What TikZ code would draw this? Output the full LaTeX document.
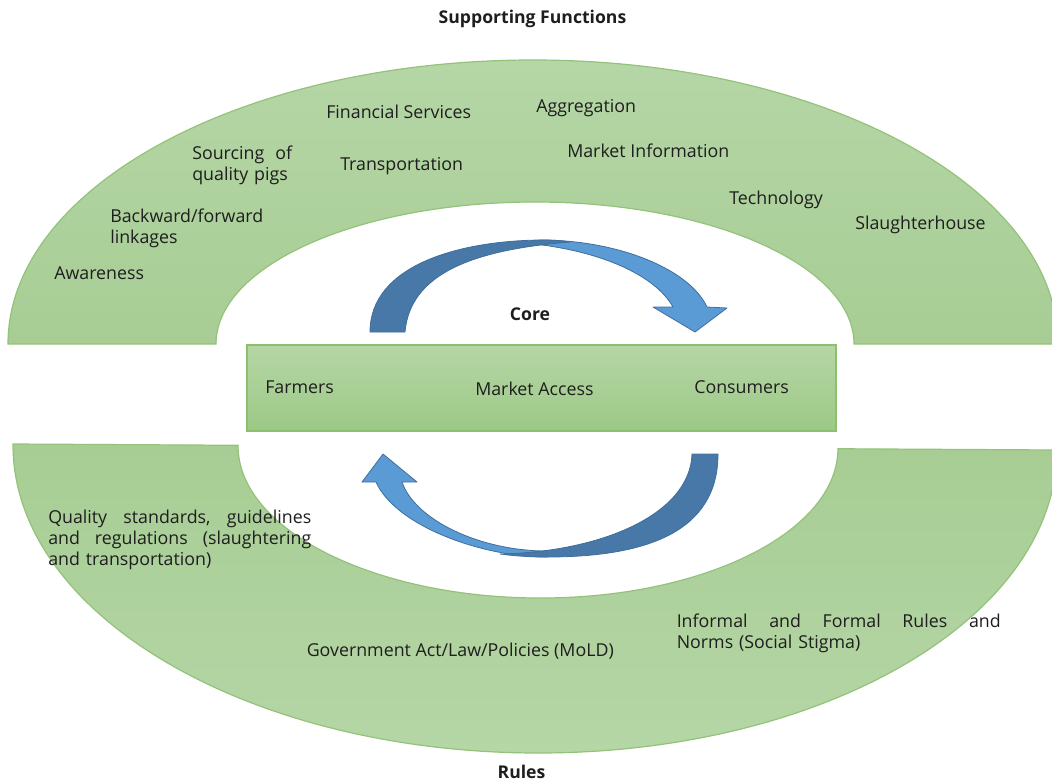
\documentclass[tikz,border=0pt]{standalone}
\usepackage{fontspec}
\setmainfont{Open Sans}
% a line set to a given width, its words pushed apart
\newcommand\spreadto[2]{\leavevmode\hbox to #1{#2}}
\definecolor{bandTop}{HTML}{B5D6A6}
\definecolor{bandBot}{HTML}{A7CD94}
\definecolor{bandEdge}{HTML}{95C27A}
\definecolor{boxTop}{HTML}{B6D6A5}
\definecolor{boxBot}{HTML}{9CC986}
\definecolor{boxEdge}{HTML}{8CBF6E}
\definecolor{arrowDark}{HTML}{4878A8}
\definecolor{arrowLight}{HTML}{5B9BD5}
\definecolor{arrowEdge}{HTML}{3F6E9C}
\definecolor{txt}{HTML}{1E1E1E}
\begin{document}
\begin{tikzpicture}[x=0.75pt,y=-0.75pt,
  lbl/.style={inner sep=0pt, anchor=base west, text=txt,
    font=\fontsize{13.35}{16}\selectfont},
  para/.style={lbl, align=left},
  ttl/.style={inner sep=0pt, anchor=base, text=txt,
    font=\bfseries\fontsize{13.2}{16}\selectfont},
  band/.style={draw=bandEdge, line width=0.9pt},
  arrowband/.style={draw=arrowEdge, line width=0.6pt, line join=round}]
\useasboundingbox (0,0) rectangle (1052,782);

% upper band: supporting functions
\path[band, top color=bandTop, bottom color=bandBot]
  (8,344) arc[start angle=180, end angle=360, x radius=525, y radius=284]
  -- (854,344) arc[start angle=0, end angle=-180, x radius=319, y radius=142]
  -- cycle;

% lower band: rules (very slightly tilted, right end lower)
\path[band, top color=bandBot, bottom color=bandTop,
      rotate around={-0.33:(535,447)}]
  (13,447) arc[start angle=180, end angle=0, x radius=522, y radius=306]
  -- (838,447) arc[start angle=0, end angle=180, x radius=300, y radius=151]
  -- cycle;

% core box
\node[draw=boxEdge, line width=0.9pt, top color=boxTop, bottom color=boxBot,
      minimum width=441.75pt, minimum height=64.5pt, inner sep=0pt]
  (corebox) at (541.5,388) {};

% upper circular arrow: head part, then tail part
\path[arrowband, fill=arrowLight]
  (540,240) .. controls (620,240) and (690,270) .. (707,307)
  -- (727,308) -- (695,332) -- (653,307) -- (673,307)
  .. controls (655,275) and (600,250) .. (525,243) -- cycle;
\path[arrowband, fill=arrowDark]
  (370,332) .. controls (370,265) and (460,240) .. (545,240)
  .. controls (555,240) and (563,241) .. (570,242)
  .. controls (470,250) and (410,275) .. (405,332) -- cycle;

% lower circular arrow: head part, then tail part
\path[arrowband, fill=arrowLight]
  (547,557) .. controls (480,557) and (395,525) .. (376,482)
  -- (362,482) -- (383,454) -- (417,482) -- (402,482)
  .. controls (415,520) and (480,551) .. (547,551) -- cycle;
\path[arrowband, fill=arrowDark]
  (718,454) .. controls (718,530) and (650,557) .. (547,557)
  .. controls (530,557) and (515,556) .. (500,554)
  .. controls (600,552) and (690,515) .. (692,454) -- cycle;

% titles
\node[ttl] (supporting) at (532.5,23) {Supporting Functions};
\node[ttl] (core) at (530,320) {Core};
\node[ttl] (rules) at (521.5,778) {Rules};

% supporting functions
\node[lbl] (finance) at (326,118) {Financial Services};
\node[lbl] (aggregation) at (536,112) {Aggregation};
\node[para, text width=75pt] (sourcing) at (192,159)
  {\spreadto{75pt}{Sourcing\hfill of}\\quality pigs};
\node[lbl] (transport) at (340,170) {Transportation};
\node[lbl] (marketinfo) at (567,157) {Market Information};
\node[para, text width=120pt] (linkages) at (110,222) {Backward/forward\\linkages};
\node[lbl] (technology) at (729,204) {Technology};
\node[lbl] (slaughter) at (855,229) {Slaughterhouse};
\node[lbl] (awareness) at (54,279) {Awareness};

% core actors
\node[lbl] (farmers) at (265,393) {Farmers};
\node[lbl] (access) at (475,395) {Market Access};
\node[lbl] (consumers) at (694,393.5) {Consumers};

% rules
\node[para, text width=197.25pt] (standards) at (48,523)
  {\spreadto{197.25pt}{Quality\hfill standards,\hfill guidelines}\\
   \spreadto{197.25pt}{and\hfill regulations\hfill (slaughtering}\\
   and transportation)};
\node[lbl] (government) at (306.5,656) {Government Act/Law/Policies (MoLD)};
\node[para, text width=243pt] (norms) at (676.5,627)
  {\spreadto{243pt}{Informal\hfill and\hfill Formal\hfill Rules\hfill and}\\
   Norms (Social Stigma)};
\end{tikzpicture}
\end{document}
